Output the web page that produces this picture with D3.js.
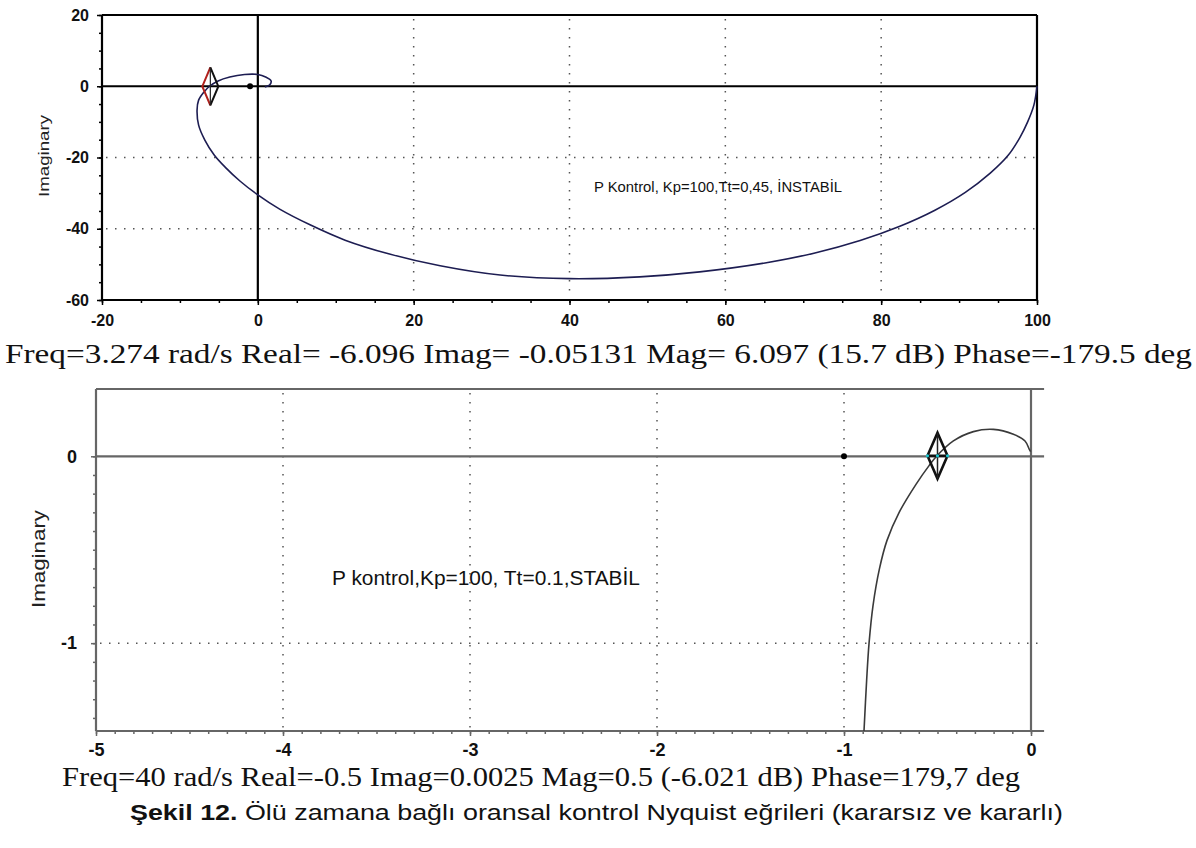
<!DOCTYPE html>
<html>
<head>
  <meta charset="utf-8">
  <title>Nyquist egrileri</title>
  <style type="text/css">
    body { margin:0; background:#fff; }
    .tlab { font-family: 'Liberation Sans', Arial, sans-serif; }
    .freq { font-family: 'Liberation Serif', 'Times New Roman', serif; font-size:27px; fill:#111; }
    .grid { fill:none; stroke:#555; stroke-width:1.5; stroke-dasharray:1.5,7.5; }
  </style>
</head>
<body>
<script src="https://cdnjs.cloudflare.com/ajax/libs/d3/7.8.5/d3.min.js"></script>
<script>
//# Data
// upper plot: Kp=100, Tt=0.45 (unstable)
var topRe = [100, 99.6, 98.8, 97.8, 96.3, 94, 90.8, 86.9, 82.4, 77.3, 71.5, 65.1, 56.7, 49, 40, 31.1, 23.4, 16.9, 11.2, 6.7, 2.8, 0,
             -2.3, -4.2, -5.6, -6.8, -7.6, -7.8, -7.6, -6.9, -6.2, -5.1, -3.6, -1.7, 0, 1, 1.7, 1.5, 0.9];
var topIm = [0, -5.3, -10, -14.4, -19.4, -24.4, -29.8, -34.8, -39.3, -43.3, -46.8, -49.6, -52.1, -53.5, -54, -53, -50.4, -47.1, -43.2, -38.9, -34.5, -30.5,
             -26.6, -22.7, -19.3, -15.1, -10.9, -6.7, -3.9, -1.6, 0, 1.5, 2.6, 3.3, 3.3, 2.6, 1.5, 0.3, -0.2];
var topMarker = [-6.096, -0.05131];
var topXTicks = [-20, 0, 20, 40, 60, 80, 100];
var topYTicks = [20, 0, -20, -40, -60];
var topXGrid = [20, 40, 60, 80];
var topYGrid = [-20, -40];

// lower plot: Kp=100, Tt=0.1 (stable)
var botRe = [-0.893, -0.879, -0.866, -0.845, -0.81, -0.77, -0.705, -0.615, -0.545, -0.505, -0.415, -0.308, -0.201, -0.094, -0.032, -0.009, -0.002];
var botIm = [-1.47, -1.2, -1.0, -0.8, -0.6, -0.45, -0.3, -0.15, -0.05, 0, 0.082, 0.132, 0.144, 0.118, 0.082, 0.037, 0.025];
var botMarker = [-0.5, 0.0025];
var botXTicks = [-5, -4, -3, -2, -1, 0];
var botYTicks = [0, -1];
var botXGrid = [-4, -3, -2, -1];
var botYGrid = [-1];

var critical = [-1, 0];

var svg = d3.select('body').append('svg')
  .attr('width', 1196)
  .attr('height', 848);

function pts(re, im){
  return re.map(function(d, i){ return [d, im[i]]; });
}

//# Panel drawing
function drawPanel(o){
  var x = o.x, y = o.y;
  var g = svg.append('g');
  var x0 = x.domain()[0], x1 = o.xEnd, y0 = y.domain()[0], y1 = y.domain()[1];

  // dotted grid
  o.xGrid.forEach(function(v){
    g.append('line').attr('class','grid')
      .attr('x1', x(v)).attr('x2', x(v)).attr('y1', y(y1) + 4).attr('y2', y(y0) - 2);
  });
  o.yGrid.forEach(function(v){
    g.append('line').attr('class','grid')
      .attr('x1', x(x0) + 4).attr('x2', x(x1) - 2).attr('y1', y(v)).attr('y2', y(v));
  });

  // minor ticks
  var minorX = g.append('g').attr('transform', 'translate(0,' + y(y0) + ')')
    .call(d3.axisBottom(x).tickValues(o.minorX).tickSize(o.minorLen).tickFormat(''));
  var minorY = g.append('g').attr('transform', 'translate(' + x(x0) + ',0)')
    .call(d3.axisLeft(y).tickValues(o.minorY).tickSize(o.minorLen).tickFormat(''));

  // major ticks with labels (plain hyphen, like the original)
  var fmt = function(d){ return String(d); };
  var axX = g.append('g').attr('transform', 'translate(0,' + y(y0) + ')')
    .call(d3.axisBottom(x).tickValues(o.xTicks).tickSize(o.majorLen).tickPadding(o.xPad).tickFormat(fmt));
  var axY = g.append('g').attr('transform', 'translate(' + x(x0) + ',0)')
    .call(d3.axisLeft(y).tickValues(o.yTicks).tickSize(o.majorLen).tickPadding(o.yPad).tickFormat(fmt));

  [minorX, minorY, axX, axY].forEach(function(a){
    a.select('.domain').remove();
    a.selectAll('.tick line').attr('stroke', o.axisColor).attr('stroke-width', 1.5);
  });
  [axX, axY].forEach(function(a){
    a.selectAll('.tick text')
      .attr('class', 'tlab')
      .style('font-size', o.tickFont + 'px')
      .style('font-weight', o.tickWeight)
      .attr('fill', '#111');
  });

  // frame and zero lines
  var frame = [
    [x(x0), y(y1), x(x0), y(y0)],
    [x(x0), y(y0), x(x1), y(y0)],
    [x(x0), y(y1), x(x1), y(y1)],
    [x(x0), y(0), x(x1), y(0)],
    [x(0), y(y1), x(0), y(y0)]
  ];
  if (o.rightBorder) frame.push([x(x1), y(y1), x(x1), y(y0)]);
  frame.forEach(function(f){
    g.append('line')
      .attr('x1', f[0]).attr('y1', f[1]).attr('x2', f[2]).attr('y2', f[3])
      .attr('stroke', o.axisColor).attr('stroke-width', 2.2);
  });

  // y axis title
  g.append('text').attr('class','tlab')
    .attr('transform', 'translate(' + o.yTitle[0] + ',' + o.yTitle[1] + ') rotate(-90)')
    .attr('text-anchor', 'middle')
    .style('font-size', o.yTitle[2] + 'px')
    .attr('textLength', o.yTitle[3])
    .attr('lengthAdjust', 'spacingAndGlyphs')
    .attr('fill', '#222')
    .text('Imaginary');

  // Nyquist curve
  var line = d3.line()
    .x(function(d){ return x(d[0]); })
    .y(function(d){ return y(d[1]); })
    .curve(d3.curveCatmullRom.alpha(0.5));
  g.append('path')
    .datum(o.data)
    .attr('d', line)
    .attr('fill', 'none')
    .attr('stroke', o.curveColor)
    .attr('stroke-width', 1.6);

  // -1 point
  g.append('circle')
    .attr('cx', x(critical[0])).attr('cy', y(critical[1]))
    .attr('r', 3).attr('fill', '#000');

  // label
  g.append('text').attr('class','tlab')
    .attr('x', o.label[0]).attr('y', o.label[1])
    .style('font-size', o.label[2] + 'px')
    .attr('fill', '#111')
    .attr('textLength', o.label[3])
    .attr('lengthAdjust', 'spacingAndGlyphs')
    .text(o.label[4]);

  // diamond cursor
  var mx = x(o.marker[0]), my = y(o.marker[1]), w = o.dia[0], h = o.dia[1];
  var m = g.append('g').attr('transform', 'translate(' + mx + ',' + my + ')');
  if (o.twoTone){
    m.append('path').attr('d', 'M0,' + (-h) + 'L' + (-w) + ',0L0,' + h)
      .attr('fill','none').attr('stroke','#b0201c').attr('stroke-width', 2);
    m.append('path').attr('d', 'M0,' + (-h) + 'L' + w + ',0L0,' + h)
      .attr('fill','none').attr('stroke','#111').attr('stroke-width', 2);
    m.append('line').attr('x1',0).attr('x2',0).attr('y1',-h).attr('y2',h)
      .attr('stroke','#222').attr('stroke-width',1.2);
  } else {
    m.append('path').attr('d', 'M0,' + (-h) + 'L' + (-w) + ',0L0,' + h + 'L' + w + ',0Z')
      .attr('fill','none').attr('stroke','#111').attr('stroke-width', 2.6);
    m.append('line').attr('x1',0).attr('x2',0).attr('y1',-h).attr('y2',h)
      .attr('stroke','#222').attr('stroke-width',1.5);
    m.append('line').attr('x1',-w).attr('x2',w).attr('y1',0).attr('y2',0)
      .attr('stroke','#111').attr('stroke-width',2.6);
    [-w, 0, w].forEach(function(dx){
      m.append('circle').attr('cx', dx).attr('cy', 0).attr('r', 1.6).attr('fill', '#19c6d0');
    });
  }
}

//# Upper plot
drawPanel({
  x: d3.scaleLinear().domain([-20, 100]).range([102, 1037]),
  y: d3.scaleLinear().domain([-60, 20]).range([300, 15]),
  xEnd: 100, rightBorder: true,
  data: pts(topRe, topIm),
  marker: topMarker,
  xTicks: topXTicks, yTicks: topYTicks,
  minorX: d3.range(-20, 101, 5), minorY: d3.range(-60, 21, 5),
  xGrid: topXGrid, yGrid: topYGrid,
  minorLen: 3, majorLen: 5, xPad: 10, yPad: 8,
  tickFont: 16, tickWeight: 'bold',
  axisColor: '#000', curveColor: '#1d1d52',
  yTitle: [49, 156, 15, 82],
  label: [594, 192, 15, 248, 'P Kontrol, Kp=100,Tt=0,45, İNSTABİL'],
  dia: [8, 19], twoTone: true
});

//# Lower plot
drawPanel({
  x: d3.scaleLinear().domain([-5, 0]).range([96, 1031]),
  y: d3.scaleLinear().domain([-1.47, 0.36]).range([731, 389]),
  xEnd: 0.07, rightBorder: false,
  data: pts(botRe, botIm),
  marker: botMarker,
  xTicks: botXTicks, yTicks: botYTicks,
  minorX: d3.range(-50, 1).map(function(d){ return d / 10; }),
  minorY: d3.range(-14, 1).map(function(d){ return d / 10; }),
  xGrid: botXGrid, yGrid: botYGrid,
  minorLen: 3, majorLen: 5, xPad: 7, yPad: 14,
  tickFont: 18, tickWeight: 'bold',
  axisColor: '#666', curveColor: '#3a3a3a',
  yTitle: [45, 559, 19, 98],
  label: [332, 585, 20, 308, 'P kontrol,Kp=100, Tt=0.1,STABİL'],
  dia: [10, 23], twoTone: false
});

//# Readout lines and caption
svg.append('text').attr('class','freq')
  .attr('x', 5).attr('y', 363)
  .attr('textLength', 1187).attr('lengthAdjust', 'spacingAndGlyphs')
  .text('Freq=3.274 rad/s Real= -6.096 Imag= -0.05131 Mag= 6.097 (15.7 dB) Phase=-179.5 deg');

svg.append('text').attr('class','freq')
  .attr('x', 62).attr('y', 786)
  .attr('textLength', 958).attr('lengthAdjust', 'spacingAndGlyphs')
  .text('Freq=40 rad/s Real=-0.5 Imag=0.0025 Mag=0.5 (-6.021 dB) Phase=179,7 deg');

var cap = svg.append('text').attr('class','tlab')
  .attr('x', 130).attr('y', 820)
  .style('font-size', '22px')
  .attr('fill', '#111')
  .attr('textLength', 933).attr('lengthAdjust', 'spacingAndGlyphs');
cap.append('tspan').style('font-weight','bold').text('Şekil 12.');
cap.append('tspan').text(' Ölü zamana bağlı oransal kontrol Nyquist eğrileri (kararsız ve kararlı)');
</script>
</body>
</html>
